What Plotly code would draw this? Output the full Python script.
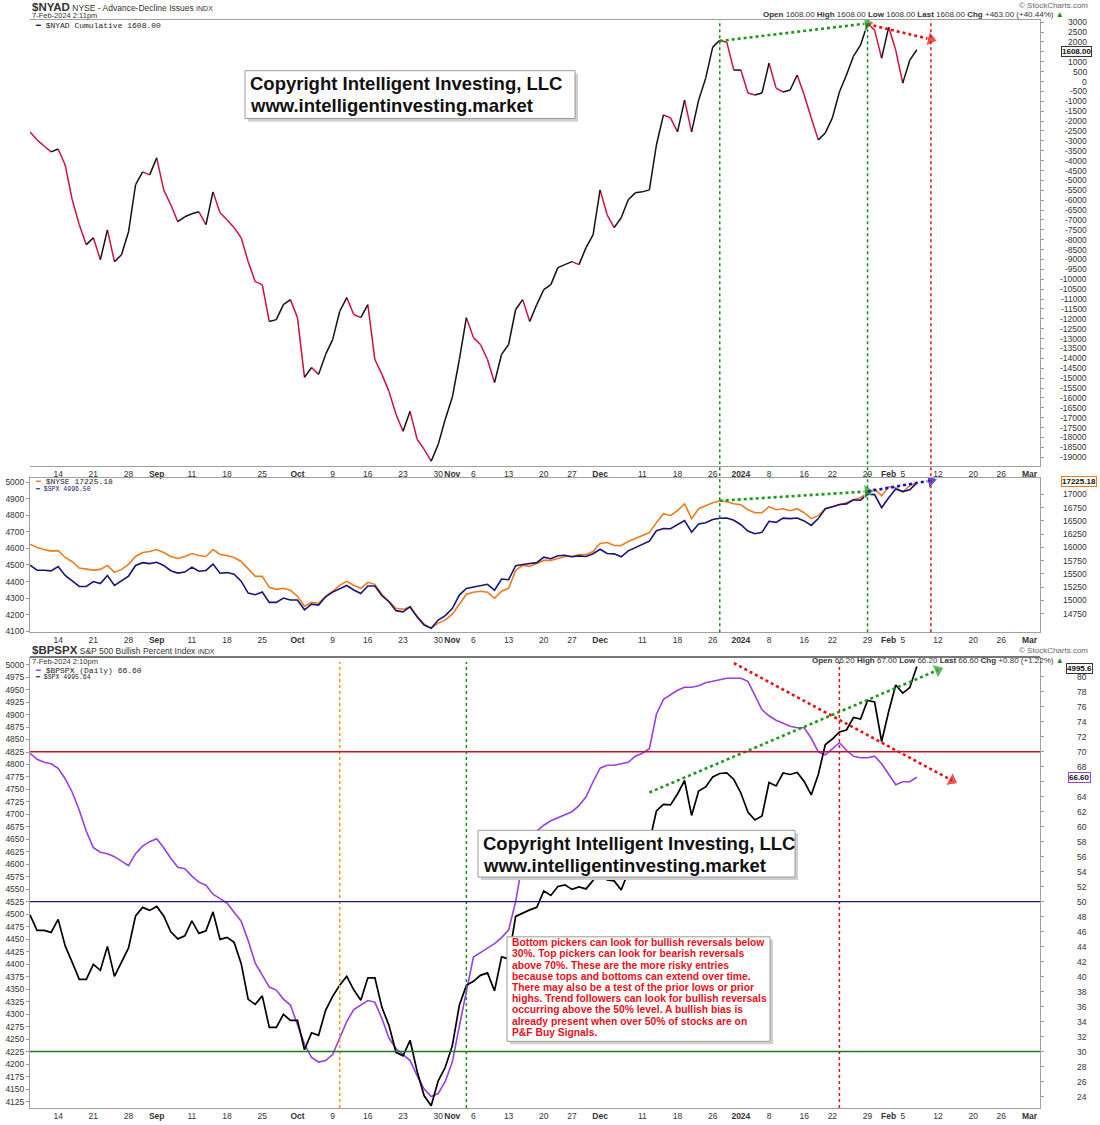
import plotly.graph_objects as go
import pandas as pd

# ---------------- data ----------------
HOLIDAYS = ["2023-09-04", "2023-11-23", "2023-12-25", "2024-01-01", "2024-01-15", "2024-02-19"]
SESSIONS = [d.strftime("%Y-%m-%d") for d in
            pd.bdate_range("2023-08-08", "2024-03-05", freq="C", holidays=HOLIDAYS)]

NYAD = [
    -2550, -2950, -3260, -3560, -3410, -4220, -5980, -7240, -8250, -7900,
    -9010, -7500, -9110, -8760, -7600, -5220, -4570, -4720, -3860, -5480,
    -6230, -7090, -6840, -6690, -6590, -7240, -5580, -6640, -6990, -7390,
    -7900, -9110, -10120, -10270, -12140, -12040, -11280, -11030, -11940, -14960,
    -14460, -14810, -13800, -13050, -11630, -10930, -11780, -11940, -11280, -14060,
    -14810, -15670, -16830, -17690, -16680, -18090, -18600, -19200, -18350, -17080,
    -15970, -14060, -11940, -12950, -13300, -14060, -15220, -13800, -13300, -11530,
    -11030, -12140, -11280, -10520, -10270, -9410, -9260, -9110, -9260, -8400,
    -7750, -5480, -6740, -7390, -6890, -5980, -5630, -5580, -5480, -3210,
    -1690, -1840, -2550, -940, -2550, -940, 170, 1740, 2090, 1990,
    580, 580, -580, -680, -580, 930, -330, -530, -430, 330,
    -680, -1840, -2950, -2600, -1840, -530, 330, 1280, 1840, 2940,
    2600, 1180, 2750, 1590, -80, 1080, 1608,
]

SPX = [
    4499, 4468, 4468, 4464, 4490, 4437, 4404, 4370, 4370, 4400,
    4388, 4436, 4376, 4406, 4433, 4497, 4514, 4508, 4516, 4497,
    4465, 4451, 4457, 4487, 4462, 4467, 4505, 4450, 4454, 4444,
    4402, 4330, 4320, 4337, 4274, 4274, 4300, 4288, 4288, 4229,
    4263, 4258, 4308, 4336, 4358, 4376, 4349, 4328, 4373, 4373,
    4314, 4278, 4224, 4217, 4248, 4186, 4137, 4117, 4167, 4194,
    4237, 4318, 4358, 4366, 4378, 4383, 4347, 4415, 4411, 4496,
    4503, 4509, 4514, 4547, 4538, 4556, 4559, 4550, 4555, 4551,
    4568, 4595, 4569, 4567, 4549, 4585, 4604, 4622, 4644, 4707,
    4720, 4719, 4741, 4768, 4698, 4747, 4755, 4775, 4782, 4783,
    4770, 4743, 4705, 4689, 4697, 4764, 4757, 4783, 4780, 4784,
    4766, 4739, 4780, 4840, 4851, 4865, 4869, 4894, 4891, 4928,
    4925, 4846, 4906, 4959, 4943, 4954, 4996,
]

NYSE = [
    16060, 16000, 15960, 15930, 15940, 15810, 15730, 15610, 15590, 15570,
    15585, 15660, 15528, 15585, 15679, 15829, 15904, 15923, 15960, 15904,
    15829, 15791, 15829, 15885, 15848, 15829, 15960, 15866, 15848, 15810,
    15735, 15585, 15453, 15453, 15246, 15208, 15227, 15190, 15077, 14889,
    14964, 14945, 15077, 15171, 15284, 15359, 15284, 15227, 15340, 15302,
    15114, 14983, 14851, 14832, 14870, 14701, 14550, 14475, 14569, 14626,
    14739, 14927, 15114, 15152, 15171, 15152, 15039, 15171, 15227, 15566,
    15660, 15641, 15698, 15754, 15754, 15791, 15829, 15829, 15866, 15866,
    15923, 16073, 16092, 16036, 16036, 16111, 16168, 16224, 16280, 16468,
    16637, 16600, 16694, 16825, 16543, 16731, 16788, 16844, 16882, 16863,
    16825, 16806, 16712, 16656, 16656, 16769, 16712, 16731, 16694, 16731,
    16656, 16543, 16600, 16731, 16769, 16806, 16844, 16900, 16938, 17032,
    17107, 16976, 17145, 17126, 17051, 17164, 17225,
]

BPSPX = [
    69.8, 69.0, 68.6, 68.4, 67.8, 66.4, 64.6, 62.2, 59.4, 57.2,
    56.6, 56.4, 56.0, 55.4, 54.8, 56.4, 57.4, 58.0, 58.4, 57.2,
    55.8, 54.6, 54.4, 53.4, 52.6, 52.2, 51.0, 50.4, 49.8, 48.6,
    47.4, 44.8, 41.8, 40.2, 38.6, 38.2, 37.0, 36.2, 33.6, 31.0,
    29.2, 28.6, 28.8, 29.6, 31.8, 34.0, 35.6, 36.2, 36.8, 36.6,
    34.4, 31.8, 30.4, 29.6, 28.8, 26.8, 25.0, 24.0, 24.4, 26.0,
    28.6, 33.4, 38.0, 42.6, 43.2, 43.8, 44.4, 45.2, 46.2, 50.0,
    55.4, 58.4, 59.4, 60.2, 60.8, 61.2, 61.6, 62.0, 62.8, 64.0,
    66.0, 67.8, 68.2, 68.2, 68.4, 68.6, 69.4, 69.8, 70.4, 75.0,
    77.0, 77.6, 78.2, 78.6, 78.6, 78.8, 79.2, 79.4, 79.6, 79.8,
    79.8, 79.8, 79.4, 77.4, 75.6, 74.8, 74.2, 73.8, 73.4, 73.2,
    73.2, 71.8, 70.0, 69.6, 70.4, 71.2, 70.2, 69.4, 69.2, 69.2,
    69.4, 68.4, 67.0, 65.6, 66.0, 66.0, 66.6,
]

TICK_DATES = ["2023-08-14", "2023-08-21", "2023-08-28", "2023-09-01", "2023-09-11", "2023-09-18",
              "2023-09-25", "2023-10-02", "2023-10-09", "2023-10-16", "2023-10-23", "2023-10-30",
              "2023-11-01", "2023-11-06", "2023-11-13", "2023-11-20", "2023-11-27", "2023-12-01",
              "2023-12-11", "2023-12-18", "2023-12-26", "2024-01-02", "2024-01-08", "2024-01-16",
              "2024-01-22", "2024-01-29", "2024-02-01", "2024-02-05", "2024-02-12", "2024-02-20",
              "2024-02-26", "2024-03-01"]
TICK_TEXT = ["14", "21", "28", "<b>Sep</b>", "11", "18", "25", "<b>Oct</b>", "9", "16", "23", "30",
             "<b>Nov</b>", "6", "13", "20", "27", "<b>Dec</b>", "11", "18", "26", "<b>2024</b>", "8", "16",
             "22", "29", "<b>Feb</b>", "5", "12", "20", "26", "<b>Mar</b>"]

NYAD_TICKS = list(range(-19000, 3001, 500))
NYSE_TICKS = list(range(14750, 17001, 250))
SPX_MID_TICKS = list(range(4100, 5001, 100))
BP_TICKS = list(range(24, 81, 2))
SPX_BOT_TICKS = list(range(4125, 5001, 25))
# labels covered by the current-value tags in the original
HIDDEN_LABELS = {"y": [1500], "y2": [], "y4": [66]}

VLINES_TOP = [("2023-12-27", "#1a8c1a"), ("2024-01-29", "#1a8c1a"), ("2024-02-09", "#e01010")]
VLINES_BOTTOM = [("2023-10-10", "#f59a10"), ("2023-11-03", "#1a8c1a"), ("2024-01-23", "#e01010")]

# arrows: (start date, start value, end date, end value, colour)
ARROWS_TOP = [("2023-12-27", 2050, "2024-01-29", 2940, "#1a9a1a"),
              ("2024-01-29", 2900, "2024-02-09", 2130, "#e81010")]
ARROWS_MID = [("2023-12-27", 4888, "2024-01-29", 4944, "#1a9a1a"),
              ("2024-01-29", 4944, "2024-02-09", 5010, "#1010d8")]
ARROWS_BOT = [("2023-12-12", 4744, "2024-02-12", 4989, "#1a9a1a"),
              ("2023-12-29", 5003, "2024-02-14", 4768, "#e81010")]

BP_LEVELS = [(70, "#d0102a"), (50, "#1a1a8c"), (30, "#1a7a1a")]

# ---------------- helpers ----------------
POS = {d: i for i, d in enumerate(SESSIONS)}
X = list(range(len(NYAD)))
TICKVALS = [POS[d] for d in TICK_DATES]
W, H = 1100, 1125


def px(x):
    return x / W


def py(y):
    return 1 - y / H


FONT = "Liberation Sans, Arial, sans-serif"
MONO = "Liberation Mono, DejaVu Sans Mono, monospace"

fig = go.Figure()

# top panel: up segments black, down segments red
ux, uy, dx, dy = [], [], [], []
for i in range(1, len(NYAD)):
    if NYAD[i] >= NYAD[i - 1]:
        ux += [X[i - 1], X[i], None]
        uy += [NYAD[i - 1], NYAD[i], None]
    else:
        dx += [X[i - 1], X[i], None]
        dy += [NYAD[i - 1], NYAD[i], None]
fig.add_trace(go.Scatter(x=dx, y=dy, mode="lines", line=dict(color="#d0103c", width=1.5),
                         xaxis="x", yaxis="y", showlegend=False, hoverinfo="skip"))
fig.add_trace(go.Scatter(x=ux, y=uy, mode="lines", line=dict(color="#111111", width=1.5),
                         xaxis="x", yaxis="y", showlegend=False, hoverinfo="skip"))

# middle panel
fig.add_trace(go.Scatter(x=X, y=NYSE, mode="lines", line=dict(color="#f07a1e", width=1.6),
                         xaxis="x2", yaxis="y2", showlegend=False))
fig.add_trace(go.Scatter(x=X, y=SPX, mode="lines", line=dict(color="#15157a", width=1.6),
                         xaxis="x2", yaxis="y3", showlegend=False))

# bottom panel
fig.add_trace(go.Scatter(x=X, y=BPSPX, mode="lines", line=dict(color="#9a3ee0", width=1.6),
                         xaxis="x3", yaxis="y4", showlegend=False))
fig.add_trace(go.Scatter(x=X, y=SPX, mode="lines", line=dict(color="#000000", width=1.7),
                         xaxis="x3", yaxis="y5", showlegend=False))


def add_arrows(arrows, xa, ya):
    for d0, v0, d1, v1, col in arrows:
        fig.add_trace(go.Scatter(
            x=[POS[d0], POS[d1]], y=[v0, v1], mode="lines+markers",
            line=dict(color=col, width=2.6, dash="dot"),
            marker=dict(symbol="triangle-up", size=[0, 13], color=col, angleref="previous"),
            xaxis=xa, yaxis=ya, showlegend=False, hoverinfo="skip"))


add_arrows(ARROWS_TOP, "x", "y")
add_arrows(ARROWS_MID, "x2", "y3")
add_arrows(ARROWS_BOT, "x3", "y5")

shapes = []
for d, col in VLINES_TOP:
    shapes.append(dict(type="line", xref="x", yref="paper", x0=POS[d], x1=POS[d],
                       y0=py(634), y1=py(19), line=dict(color=col, width=1.5, dash="dot")))
for d, col in VLINES_BOTTOM:
    shapes.append(dict(type="line", xref="x3", yref="paper", x0=POS[d], x1=POS[d],
                       y0=py(1112), y1=py(664), line=dict(color=col, width=1.5, dash="dot")))
for lvl, col in BP_LEVELS:
    shapes.append(dict(type="line", xref="paper", yref="y4", x0=px(30), x1=px(1040),
                       y0=lvl, y1=lvl, line=dict(color=col, width=1.4)))
# separator above bottom panel
shapes.append(dict(type="line", xref="paper", yref="paper", x0=px(30), x1=px(1040),
                   y0=py(659), y1=py(659), line=dict(color="#777777", width=2)))

# copyright boxes
for (x0, y0, x1, y1) in [(245, 70, 575, 118), (478, 833, 795, 880)]:
    shapes.append(dict(type="rect", xref="paper", yref="paper", x0=px(x0 + 3), x1=px(x1 + 3),
                       y0=py(y1 + 3), y1=py(y0 + 3), line=dict(width=0), fillcolor="#cfcfcf"))
    shapes.append(dict(type="rect", xref="paper", yref="paper", x0=px(x0), x1=px(x1),
                       y0=py(y1), y1=py(y0), line=dict(color="#9a9a9a", width=1), fillcolor="white"))
# note box
shapes.append(dict(type="rect", xref="paper", yref="paper", x0=px(510), x1=px(773),
                   y0=py(1048), y1=py(943), line=dict(width=0), fillcolor="#d0d0d0"))
shapes.append(dict(type="rect", xref="paper", yref="paper", x0=px(507), x1=px(770),
                   y0=py(1045), y1=py(940), line=dict(color="#9a9a9a", width=1), fillcolor="white"))

ann = []


def text(x, y, s, size=9, color="#222", family=FONT, anchor="left"):
    ann.append(dict(x=px(x), y=py(y), xref="paper", yref="paper", text=s, showarrow=False,
                    xanchor=anchor, yanchor="middle", font=dict(size=size, color=color, family=family)))


text(30, 6, "<span style='font-size:11.5px'><b>$NYAD</b></span> NYSE - Advance-Decline Issues "
     "<span style='font-size:7px'>INDX</span>", 8.5, "#333")
text(30, 15, "7-Feb-2024 2:11pm", 7.5, "#333")
text(33, 25, "<b>━</b> $NYAD Cumulative 1608.00", 8, "#222", MONO)
text(1090, 5, "© StockCharts.com", 8, "#666", anchor="right")
text(1066, 14, "<b>Open</b> 1608.00 <b>High</b> 1608.00 <b>Low</b> 1608.00 <b>Last</b> 1608.00 "
     "<b>Chg</b> +463.00 (+40.44%) <span style='color:#1a8c1a'>▲</span>", 8, "#333", anchor="right")

text(33, 483, "<span style='color:#f07a1e'><b>━</b></span> $NYSE 17225.18", 8, "#222", MONO)
text(33, 491, "<span style='color:#15157a'><b>━</b> $SPX 4996.50</span>", 6.5, "#15157a", MONO)

text(30, 652, "<span style='font-size:11.5px'><b>$BPSPX</b></span> S&P 500 Bullish Percent Index "
     "<span style='font-size:7px'>INDX</span>", 8.5, "#333")
text(30, 663, "7-Feb-2024 2:10pm", 7.5, "#333")
text(33, 672, "<span style='color:#9a3ee0'><b>━</b></span> $BPSPX (Daily) 66.60", 8, "#222", MONO)
text(33, 680, "<b>━</b> $SPX 4995.64", 6.5, "#222", MONO)
text(1090, 652, "© StockCharts.com", 8, "#666", anchor="right")
text(1066, 662, "<b>Open</b> 66.20 <b>High</b> 67.00 <b>Low</b> 66.20 <b>Last</b> 66.60 "
     "<b>Chg</b> +0.80 (+1.22%) <span style='color:#1a8c1a'>▲</span>", 8, "#333", anchor="right")

# copyright texts
for (x0, y0) in [(248, 83), (481, 846)]:
    text(x0, y0, "<b>Copyright Intelligent Investing, LLC</b>", 18.5, "#111")
    text(x0, y0 + 22, "<b>www.intelligentinvesting.market</b>", 18.5, "#111")

NOTE = ["Bottom pickers can look for bullish reversals below",
        "30%. Top pickers can look for bearish reversals",
        "above 70%. These are the more risky entries",
        "because tops and bottoms can extend over time.",
        "There may also be a test of the prior lows or prior",
        "highs. Trend followers can look for bullish reversals",
        "occurring above the 50% level. A bullish bias is",
        "already present when over 50% of stocks are on",
        "P&F Buy Signals."]
for i, line in enumerate(NOTE):
    text(510, 946 + i * 11.25, "<b>" + line + "</b>", 10.3, "#e8101a")

axfont = dict(size=8.5, color="#333", family=FONT)


# right-hand axis labels, right aligned like the original
def right_labels(vals, yref):
    for v in vals:
        if v in HIDDEN_LABELS[yref]:
            continue
        ann.append(dict(x=px(1089), y=v, xref="paper", yref=yref, text=str(v), showarrow=False,
                        xanchor="right", yanchor="middle", font=axfont))


right_labels(NYAD_TICKS, "y")
right_labels(NYSE_TICKS, "y2")
right_labels(BP_TICKS, "y4")


# current value tags on the right
def tag(x, y, s, col):
    ann.append(dict(x=px(x), y=py(y), xref="paper", yref="paper", text="<b>" + s + "</b>",
                    showarrow=False, xanchor="left", yanchor="middle", bgcolor="white",
                    bordercolor=col, borderwidth=1, borderpad=0,
                    font=dict(size=8, color="#111", family=FONT)))


tag(1061, 51, "1608.00", "#333")
tag(1061, 483, "17225.18", "#f07a1e")
tag(1066, 670, "4995.6", "#333")
tag(1068, 780, "66.60", "#9a3ee0")

XDOM = [px(30), px(1040)]
XR = [0, 143.5]


def xax(anchor):
    return dict(domain=XDOM, anchor=anchor, range=XR, tickvals=TICKVALS, ticktext=TICK_TEXT,
                tickangle=0, showline=True, mirror=True, linecolor="#a0a0a0", linewidth=1,
                showgrid=False, zeroline=False, ticks="", tickfont=axfont, fixedrange=True)


def yax(dom, rng, tv, side, anchor, overlay=None, labels=True):
    d = dict(domain=dom, range=rng, tickvals=tv, side=side, anchor=anchor, showgrid=False,
             zeroline=False, ticks="outside", ticklen=3, tickcolor="#999", tickfont=axfont,
             showline=True, linecolor="#a0a0a0", linewidth=1, showticklabels=labels)
    if overlay:
        d["overlaying"] = overlay
    return d


fig.update_layout(
    width=W, height=H, margin=dict(l=0, r=0, t=0, b=0),
    paper_bgcolor="white", plot_bgcolor="white", showlegend=False,
    font=dict(family=FONT),
    xaxis=xax("y"),
    xaxis2=xax("y2"),
    xaxis3=xax("y4"),
    yaxis=yax([py(467), py(19)], [-19440, 3116], NYAD_TICKS, "right", "x", labels=False),
    yaxis2=yax([py(634), py(479)], [14398, 17314], NYSE_TICKS, "right", "x2", labels=False),
    yaxis3=yax([py(634), py(479)], [4094, 5026], SPX_MID_TICKS, "left", "x2", "y2"),
    yaxis4=yax([py(1112), py(660)], [22.46, 82.5], BP_TICKS, "right", "x3", labels=False),
    yaxis5=yax([py(1112), py(660)], [4112.4, 5013], SPX_BOT_TICKS, "left", "x3", "y4"),
    shapes=shapes, annotations=ann,
)

fig.write_html("out.html")
